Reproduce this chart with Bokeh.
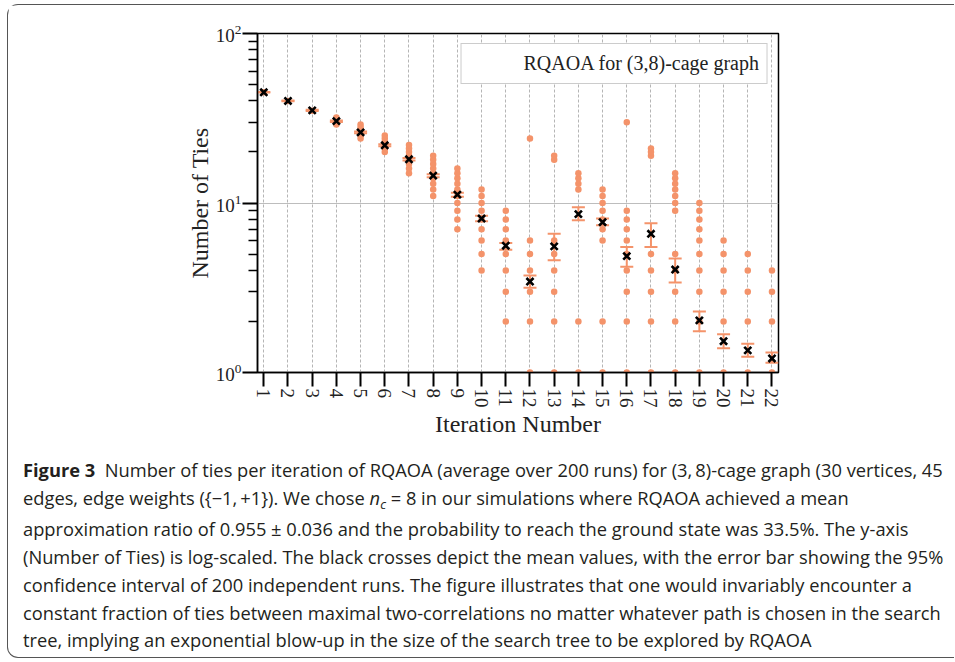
from bokeh.plotting import figure
from bokeh.models import Range1d, FixedTicker, Legend, LegendItem, Div
from bokeh.layouts import column
from bokeh.embed import file_html
from bokeh.resources import INLINE

# ---------------- data ----------------
iterations = list(range(1, 23))
tie_values = [
    [45],
    [40],
    [35],
    [29, 30, 31, 32],
    [24, 25, 26, 27, 28, 29],
    [20, 21, 22, 23, 24, 25],
    [15, 16, 17, 18, 19, 20, 21, 22],
    [11, 12, 13, 14, 15, 16, 17, 18, 19],
    [7, 8, 9, 10, 11, 12, 13, 14, 15, 16],
    [4, 5, 6, 7, 8, 9, 10, 11, 12],
    [2, 3, 4, 5, 6, 7, 8, 9],
    [1, 2, 3, 4, 5, 6, 24],
    [1, 2, 3, 4, 5, 6, 18, 19],
    [1, 2, 12, 13, 14, 15],
    [1, 2, 6, 7, 8, 9, 10, 11, 12],
    [1, 2, 3, 4, 5, 6, 7, 8, 9, 30],
    [1, 2, 3, 4, 5, 19, 20, 21],
    [1, 2, 3, 4, 5, 9, 10, 11, 12, 13, 14, 15],
    [1, 2, 3, 4, 5, 6, 7, 8, 9, 10],
    [1, 2, 3, 4, 5, 6],
    [1, 2, 3, 4, 5],
    [1, 2, 3, 4],
]
mean_ties = [45.0, 40.0, 35.2, 30.4, 26.1, 21.9, 18.1, 14.5, 11.2, 8.1, 5.6,
             3.44, 5.55, 8.6, 7.7, 4.86, 6.58, 4.05, 2.03, 1.53, 1.35, 1.21]
ci_low = [44.9, 39.8, 34.9, 30.1, 25.8, 21.6, 17.8, 14.2, 10.9, 7.8, 5.3,
          3.16, 4.6, 7.9, 7.4, 4.2, 5.5, 3.4, 1.75, 1.39, 1.24, 1.14]
ci_high = [45.1, 40.2, 35.5, 30.7, 26.4, 22.2, 18.4, 14.8, 11.5, 8.4, 5.8,
           3.73, 6.58, 9.45, 8.1, 5.5, 7.6, 4.7, 2.29, 1.68, 1.48, 1.31]
y_major = [1, 10, 100]
y_minor = [2, 3, 4, 5, 6, 7, 8, 9, 20, 30, 40, 50, 60, 70, 80, 90]
legend_label = "RQAOA for (3,8)-cage graph"
x_label = "Iteration Number"
y_label = "Number of Ties"
caption_lines = [
    "<b>Figure 3</b>&nbsp; Number of ties per iteration of RQAOA (average over 200 runs) for (3,&thinsp;8)-cage graph (30 vertices, 45",
    "edges, edge weights ({&minus;1,&thinsp;+1}). We chose <i>n<span style=\"position:relative; top:0.3em; font-size:70%;\">c</span></i> = 8 in our simulations where RQAOA achieved a mean",
    "approximation ratio of 0.955 &plusmn; 0.036 and the probability to reach the ground state was 33.5%. The y-axis",
    "(Number of Ties) is log-scaled. The black crosses depict the mean values, with the error bar showing the 95%",
    "confidence interval of 200 independent runs. The figure illustrates that one would invariably encounter a",
    "constant fraction of ties between maximal two-correlations no matter whatever path is chosen in the search",
    "tree, implying an exponential blow-up in the size of the search tree to be explored by RQAOA",
]

ORANGE = "#f4936a"
SERIF = "Liberation Serif"

dot_x = [it for it, vals in zip(iterations, tie_values) for _ in vals]
dot_y = [v for vals in tie_values for v in vals]

p = figure(width=946, height=444, y_axis_type="log",
           x_range=Range1d(0.74, 22.27), y_range=Range1d(1, 100),
           output_backend="svg", toolbar_location=None,
           min_border_left=249, min_border_right=176,
           min_border_top=28, min_border_bottom=77)

p.outline_line_color = "black"
p.outline_line_width = 1.5
p.outline_line_alpha = 1

# grids
p.xgrid.ticker = FixedTicker(ticks=iterations)
p.xgrid.grid_line_color = "#b5b5b5"
p.xgrid.grid_line_dash = "3 2"
p.xgrid.grid_line_width = 1
p.ygrid.ticker = FixedTicker(ticks=y_major)
p.ygrid.grid_line_color = "#bdbdbd"
p.ygrid.grid_line_width = 1.2
p.ygrid.minor_grid_line_color = None

# axes
p.xaxis.ticker = FixedTicker(ticks=iterations)
p.xaxis.major_label_orientation = "vertical"
p.xaxis.axis_label = x_label
p.yaxis.ticker = FixedTicker(ticks=y_major, minor_ticks=y_minor)
p.yaxis.axis_label = y_label
for ax in (p.xaxis[0], p.yaxis[0]):
    ax.axis_line_color = "black"
    ax.axis_line_width = 1.5
    ax.major_tick_line_color = "black"
    ax.major_tick_line_width = 2
    ax.minor_tick_line_color = "black"
    ax.minor_tick_line_width = 1.5
    ax.major_tick_in = 0
    ax.minor_tick_in = 0
    ax.axis_label_text_font = SERIF
    ax.axis_label_text_font_style = "normal"
    ax.axis_label_text_font_size = "24px"
    ax.axis_label_text_color = "#222222"
    ax.major_label_text_font = SERIF
    ax.major_label_text_color = "#222222"
p.xaxis.major_tick_out = 14
p.xaxis.minor_tick_out = 0
p.xaxis.major_label_text_font_size = "19px"
p.xaxis.major_label_standoff = 2
p.xaxis.axis_label_standoff = 0
p.yaxis.major_tick_out = 15
p.yaxis.minor_tick_out = 9
p.yaxis.major_label_text_font_size = "19px"
p.yaxis.major_label_standoff = 1
p.yaxis.axis_label_standoff = 0

# individual runs
p.scatter(dot_x, dot_y, size=6.5, fill_color=ORANGE, line_color=None)

# confidence intervals
p.segment(x0=iterations, y0=ci_low, x1=iterations, y1=ci_high,
          line_color=ORANGE, line_width=2)
p.scatter(iterations, ci_low, marker="dash", size=13, line_color=ORANGE, line_width=2)
p.scatter(iterations, ci_high, marker="dash", size=13, line_color=ORANGE, line_width=2)

# means
p.scatter(iterations, mean_ties, marker="x", size=10, line_color="black", line_width=2.6)

# legend (invisible handle, as in the original)
handle = p.scatter(x=[], y=[], marker="circle", size=1, alpha=0)
legend = Legend(items=[LegendItem(label=legend_label, renderers=[handle])],
                location="top_right", margin=10, padding=8, spacing=0,
                glyph_width=39, glyph_height=20, label_height=20, label_standoff=15,
                label_text_font=SERIF, label_text_font_size="20px",
                label_text_color="#222222",
                border_line_color="#cccccc", border_line_width=1.5, border_line_alpha=1,
                background_fill_color="white", background_fill_alpha=1)
p.add_layout(legend)

caption_html = (
    '<div style="font-family: \'Open Sans\', sans-serif; font-size: 18.3px; '
    'line-height: 27.9px; color: #231f20; padding: 7px 0 0 15px; white-space: nowrap;">'
    + "<br>".join(caption_lines) + "</div>"
)
cap = Div(text=caption_html, width=946, height=208, margin=0)

layout = column(p, cap, styles={
    "margin-left": "7px",
    "margin-top": "4px",
    "border": "1px solid #555555",
    "border-right": "none",
    "border-radius": "11px 0 0 11px",
})

open("out.html", "w").write(file_html(layout, INLINE))
